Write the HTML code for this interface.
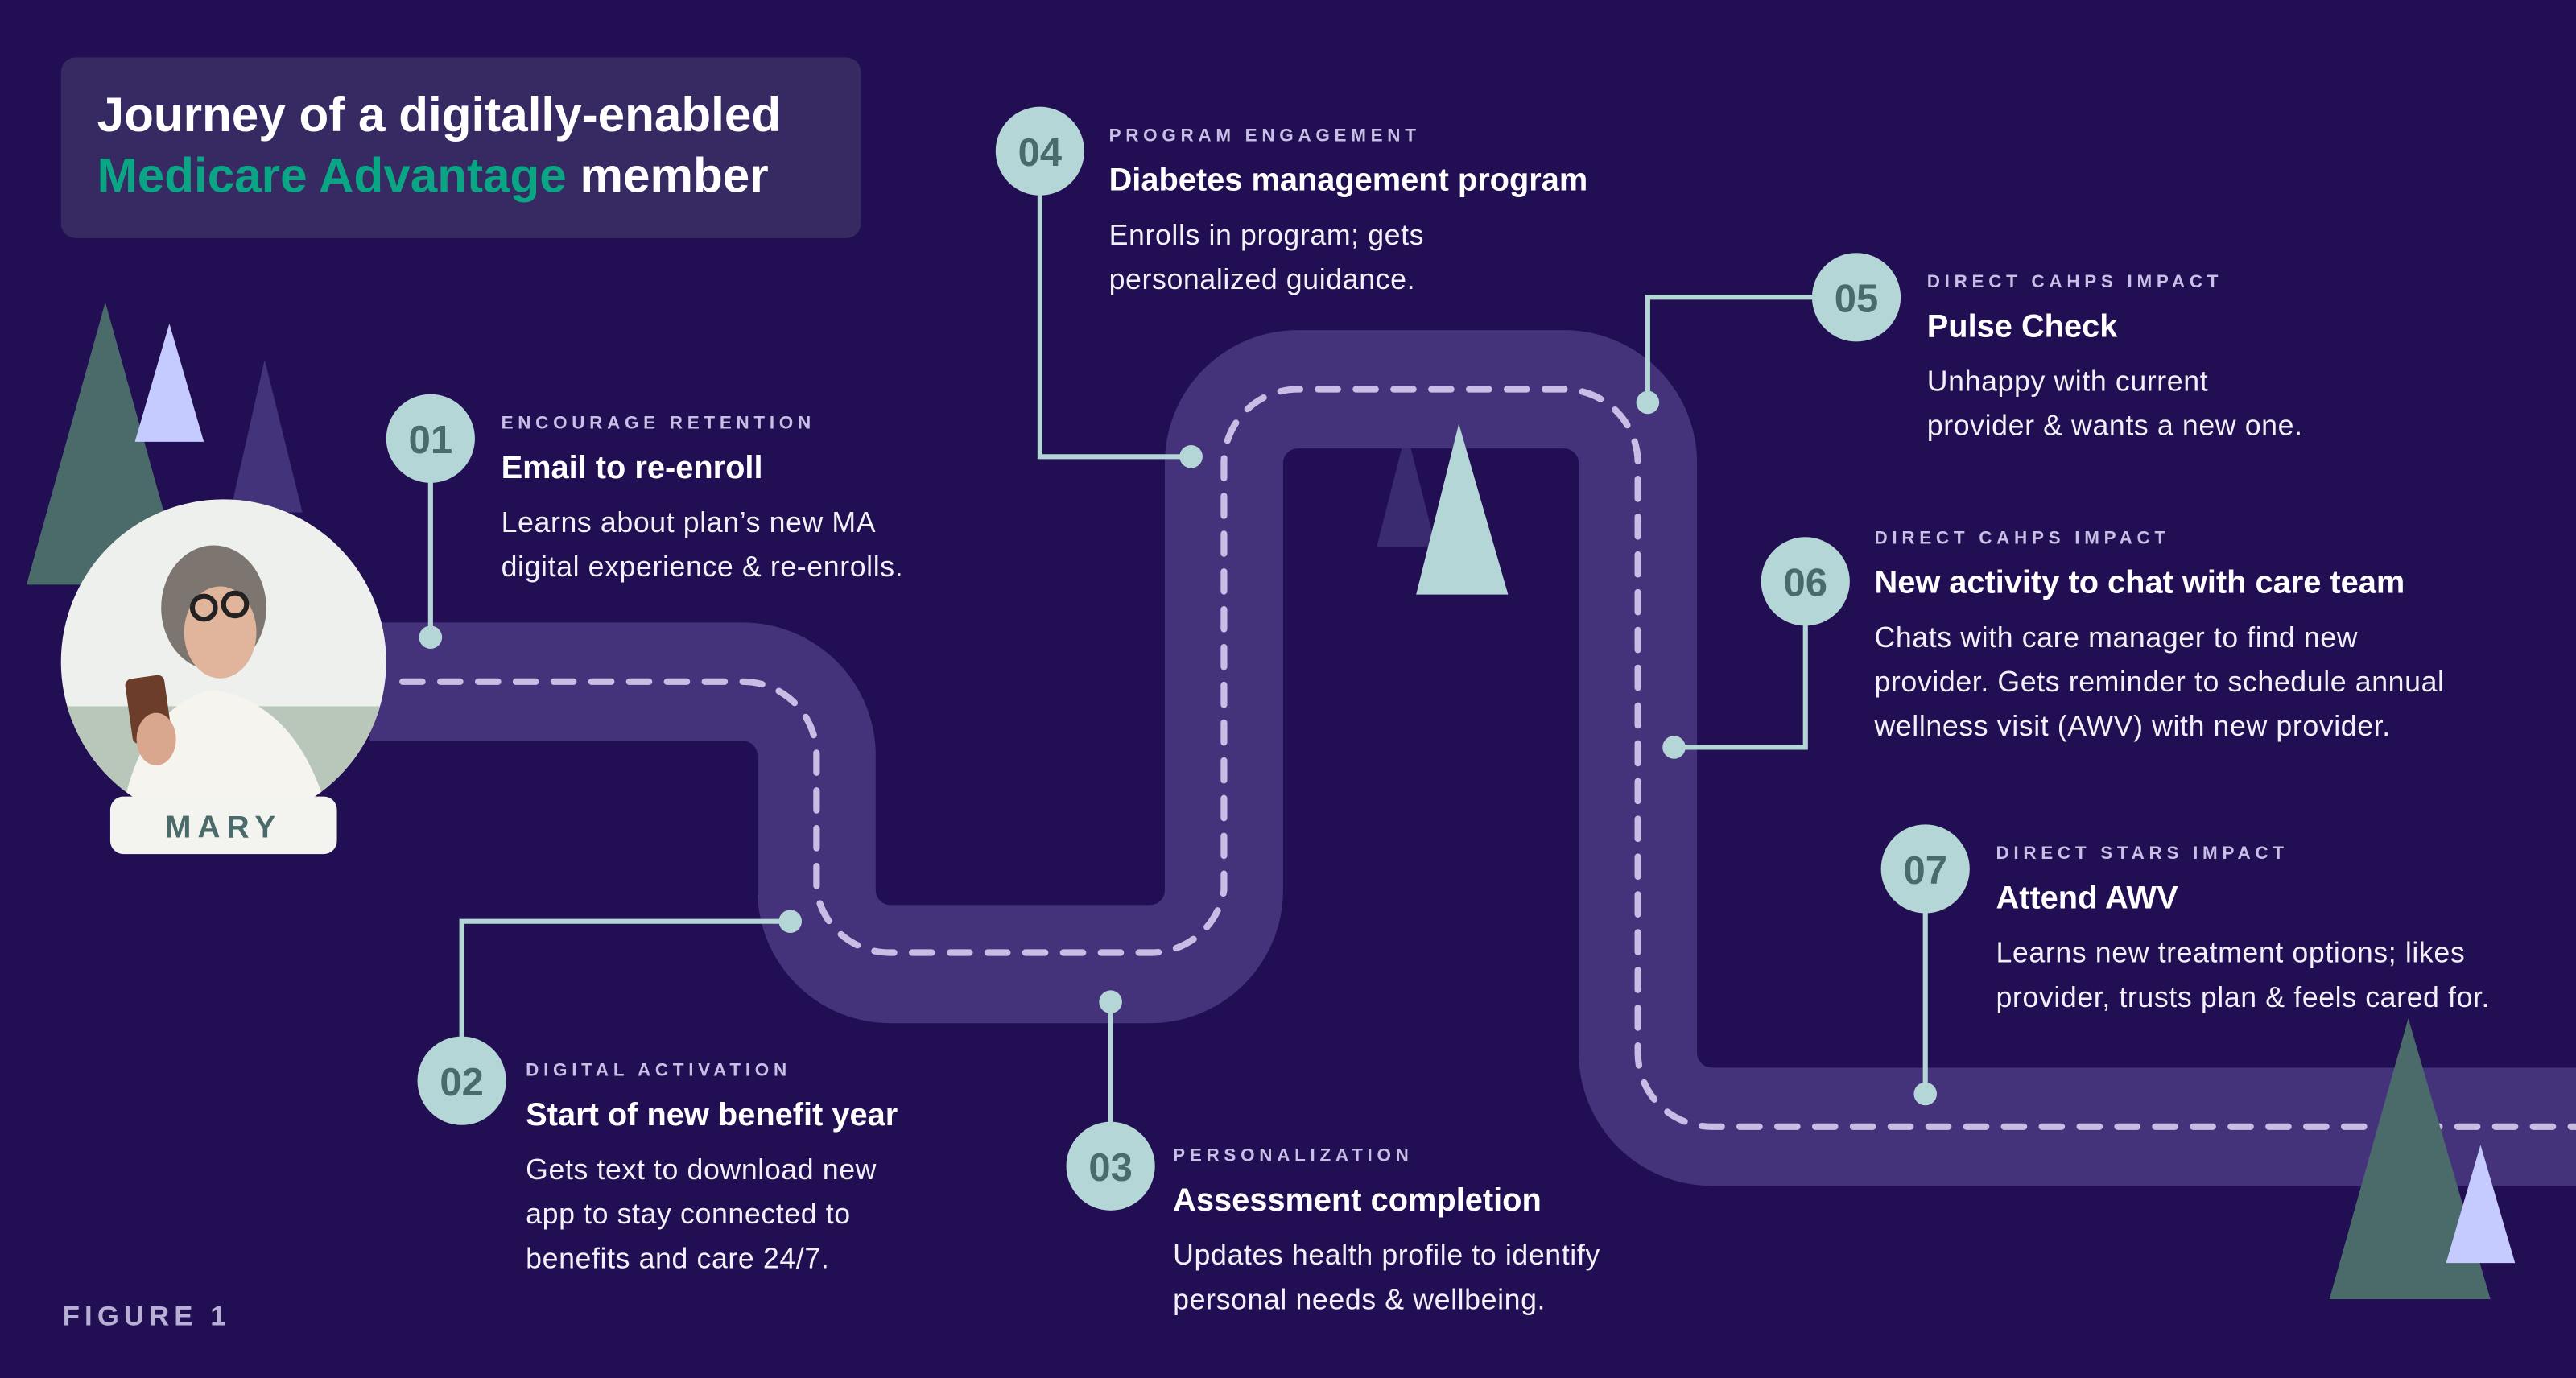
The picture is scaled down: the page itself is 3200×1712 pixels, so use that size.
<!DOCTYPE html>
<html><head><meta charset="utf-8"><style>
html,body{margin:0;padding:0;background:#220e52;}
svg{display:block;}
text{font-family:"Liberation Sans",sans-serif;}
.lab{font-size:11px;font-weight:bold;letter-spacing:2.8px;fill:#c8bfe6;}
.ttl{font-size:19.5px;font-weight:bold;fill:#fff;}
.dsc{font-size:17.5px;fill:#f2f0f8;letter-spacing:0.3px;}
.num{font-size:24px;font-weight:bold;fill:#4b6b6a;text-anchor:middle;}
.ln{stroke:#b5d6d6;stroke-width:3;fill:none;}
</style></head><body>
<svg width="3200" height="1712" viewBox="0 0 1568 839" xmlns="http://www.w3.org/2000/svg">
<rect width="1568" height="839" fill="#220e52"/>
<rect x="37" y="35" width="487" height="110" rx="9" fill="#372a63"/>
<text x="59" y="80" font-size="29.5" font-weight="bold" fill="#fff">Journey of a digitally-enabled</text>
<text x="59" y="117" font-size="29.5" font-weight="bold" fill="#0aa584">Medicare Advantage <tspan fill="#fff">member</tspan></text>
<polygon points="161,219 140,312 184,312" fill="#43337a"/>
<polygon points="64,184 16,356 112,356" fill="#4b6b6a"/>
<polygon points="103,197 82,269 124,269" fill="#c5cbff"/>
<polygon points="856,262 838,333 874,333" fill="#3a2a6e"/>
<path d="M 225 415 H 452 A 45 45 0 0 1 497 460 V 542 A 45 45 0 0 0 542 587 H 700 A 45 45 0 0 0 745 542 V 282 A 45 45 0 0 1 790 237 H 952 A 45 45 0 0 1 997 282 V 641 A 45 45 0 0 0 1042 686 H 1580" fill="none" stroke="#44337a" stroke-width="72"/>
<path d="M 245 415 H 452 A 45 45 0 0 1 497 460 V 542 A 45 45 0 0 0 542 580 H 700 A 45 45 0 0 0 745 542 V 282 A 45 45 0 0 1 790 237 H 952 A 45 45 0 0 1 997 282 V 641 A 45 45 0 0 0 1042 686 H 1580" fill="none" stroke="#c9bde6" stroke-width="4" stroke-dasharray="12 11" stroke-linecap="round"/>
<polygon points="888,258 862,362 918,362" fill="#b5d6d6"/>
<defs><clipPath id="c"><circle cx="136" cy="403" r="99"/></clipPath></defs>
<g clip-path="url(#c)">
<rect x="30" y="300" width="220" height="220" fill="#eef0ee"/>
<rect x="30" y="430" width="220" height="80" fill="#b9c7bb"/>
<ellipse cx="130" cy="370" rx="32" ry="38" fill="#7d7670"/>
<ellipse cx="134" cy="385" rx="22" ry="28" fill="#e0b59c"/>
<circle cx="124" cy="370" r="7" fill="none" stroke="#222" stroke-width="3"/>
<circle cx="143" cy="368" r="7" fill="none" stroke="#222" stroke-width="3"/>
<path d="M 70 520 Q 80 430 130 420 Q 190 430 205 520 Z" fill="#f6f4ef"/>
<rect x="78" y="412" width="24" height="40" rx="4" fill="#6b3d2a" transform="rotate(-8 90 430)"/>
<ellipse cx="95" cy="450" rx="12" ry="16" fill="#d9a68e"/>
</g>
<rect x="67" y="485" width="138" height="35" rx="8" fill="#f3f3f0"/>
<text x="136" y="510" text-anchor="middle" font-size="19" font-weight="bold" letter-spacing="4" fill="#4b6b6a">MARY</text>
<polygon points="1466,620 1418,791 1516,791" fill="#4b6b6a"/>
<polygon points="1510,697 1489,769 1531,769" fill="#c5cbff"/>
<g class="ln">
<path d="M262 267 V388"/>
<path d="M281 658 V561 H481"/>
<path d="M676 710 V610"/>
<path d="M633 92 V278 H725"/>
<path d="M1130 181 H1003 V245"/>
<path d="M1099 354 V455 H1019"/>
<path d="M1172 529 V666"/>
</g>
<g fill="#b5d6d6">
<circle cx="262" cy="388" r="7"/><circle cx="481" cy="561" r="7"/><circle cx="676" cy="610" r="7"/>
<circle cx="725" cy="278" r="7"/><circle cx="1003" cy="245" r="7"/><circle cx="1019" cy="455" r="7"/><circle cx="1172" cy="666" r="7"/>
<circle cx="262" cy="267" r="27"/><circle cx="281" cy="658" r="27"/><circle cx="676" cy="710" r="27"/>
<circle cx="633" cy="92" r="27"/><circle cx="1130" cy="181" r="27"/><circle cx="1099" cy="354" r="27"/><circle cx="1172" cy="529" r="27"/>
</g>
<text class="num" x="262" y="276">01</text>
<text class="num" x="281" y="667">02</text>
<text class="num" x="676" y="719">03</text>
<text class="num" x="633" y="101">04</text>
<text class="num" x="1130" y="190">05</text>
<text class="num" x="1099" y="363">06</text>
<text class="num" x="1172" y="538">07</text>
<text class="lab" x="305" y="261">ENCOURAGE RETENTION</text>
<text class="ttl" x="305" y="291">Email to re-enroll</text>
<text class="dsc" x="305" y="324">Learns about plan’s new MA</text>
<text class="dsc" x="305" y="351">digital experience &amp; re-enrolls.</text>

<text class="lab" x="320" y="655">DIGITAL ACTIVATION</text>
<text class="ttl" x="320" y="685">Start of new benefit year</text>
<text class="dsc" x="320" y="718">Gets text to download new</text>
<text class="dsc" x="320" y="745">app to stay connected to</text>
<text class="dsc" x="320" y="772">benefits and care 24/7.</text>

<text class="lab" x="714" y="707">PERSONALIZATION</text>
<text class="ttl" x="714" y="737">Assessment completion</text>
<text class="dsc" x="714" y="770">Updates health profile to identify</text>
<text class="dsc" x="714" y="797">personal needs &amp; wellbeing.</text>

<text class="lab" x="675" y="86">PROGRAM ENGAGEMENT</text>
<text class="ttl" x="675" y="116">Diabetes management program</text>
<text class="dsc" x="675" y="149">Enrolls in program; gets</text>
<text class="dsc" x="675" y="176">personalized guidance.</text>

<text class="lab" x="1173" y="175">DIRECT CAHPS IMPACT</text>
<text class="ttl" x="1173" y="205">Pulse Check</text>
<text class="dsc" x="1173" y="238">Unhappy with current</text>
<text class="dsc" x="1173" y="265">provider &amp; wants a new one.</text>

<text class="lab" x="1141" y="331">DIRECT CAHPS IMPACT</text>
<text class="ttl" x="1141" y="361">New activity to chat with care team</text>
<text class="dsc" x="1141" y="394">Chats with care manager to find new</text>
<text class="dsc" x="1141" y="421">provider. Gets reminder to schedule annual</text>
<text class="dsc" x="1141" y="448">wellness visit (AWV) with new provider.</text>

<text class="lab" x="1215" y="523">DIRECT STARS IMPACT</text>
<text class="ttl" x="1215" y="553">Attend AWV</text>
<text class="dsc" x="1215" y="586">Learns new treatment options; likes</text>
<text class="dsc" x="1215" y="613">provider, trusts plan &amp; feels cared for.</text>

<text x="38" y="807" font-size="17" font-weight="bold" letter-spacing="3" fill="#b8b0d4">FIGURE 1</text>
</svg>
</body></html>
